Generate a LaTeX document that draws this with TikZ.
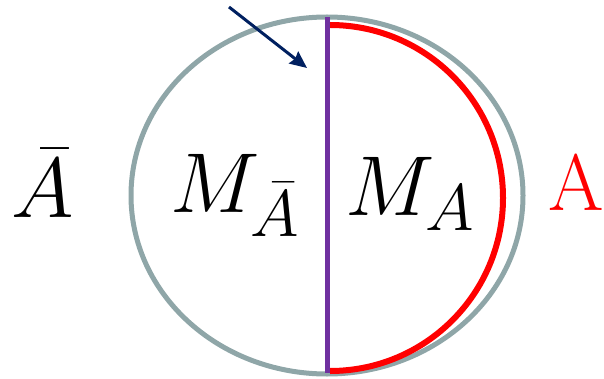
\documentclass[tikz,border=0pt]{standalone}
\usepackage{fix-cm}
\usetikzlibrary{arrows.meta}
\DeclareMathSizes{85}{85}{66}{50}
\definecolor{rimgray}{RGB}{143,166,168}
\definecolor{cutpurple}{RGB}{112,48,160}
\definecolor{arrownavy}{RGB}{0,32,96}
\begin{document}
\begin{tikzpicture}[x=1pt, y=-1pt, every node/.style={font=\fontsize{85}{90}\selectfont, inner sep=0pt}]
  \useasboundingbox (0,0) rectangle (604,379);

  % Whole region
  \draw[rimgray, line width=5pt] (327,195.5) ellipse [x radius=196, y radius=178.5];

  % Region A
  \draw[red, line width=6pt] (330,25) arc [start angle=-90, end angle=90, radius=173];

  % Cut between the halves
  \draw[cutpurple, line width=5pt] (327,17) -- (327,373);

  % Pointer to the cut
  \coordinate (tail) at (229,7);
  \coordinate (tip) at (307,68);
  \draw[arrownavy, line width=3pt, -{Stealth[length=17pt, width=15pt, inset=2pt]}] (tail) -- (tip);

  % Labels
  \node[anchor=base] (abar) at (43,218) {$\bar{A}$};
  \node[anchor=base west] (mabar) at (170,212) {$M_{\bar{A}}$};
  \node[anchor=base west] (ma) at (345,215) {$M_A$};
  \node[anchor=base, text=red, font=\fontsize{80}{90}\selectfont] (alabel) at (576,211) {A};
\end{tikzpicture}
\end{document}
